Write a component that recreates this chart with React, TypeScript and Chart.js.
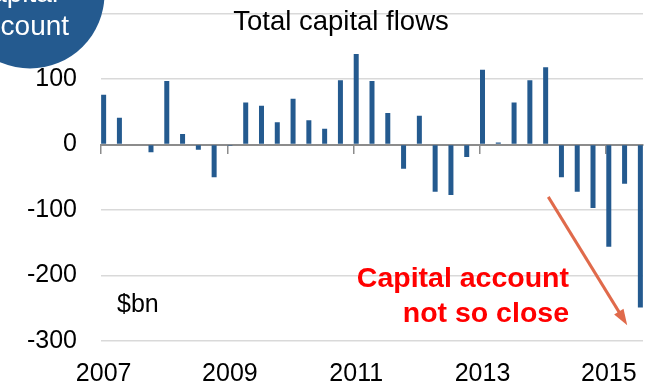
import React, { useEffect, useRef } from 'react';
import { Chart, registerables } from 'chart.js';

Chart.register(...registerables);

// ---- data ----
const quarterLabels = [
  '2007Q1', '2007Q2', '2007Q3', '2007Q4',
  '2008Q1', '2008Q2', '2008Q3', '2008Q4',
  '2009Q1', '2009Q2', '2009Q3', '2009Q4',
  '2010Q1', '2010Q2', '2010Q3', '2010Q4',
  '2011Q1', '2011Q2', '2011Q3', '2011Q4',
  '2012Q1', '2012Q2', '2012Q3', '2012Q4',
  '2013Q1', '2013Q2', '2013Q3', '2013Q4',
  '2014Q1', '2014Q2', '2014Q3', '2014Q4',
  '2015Q1', '2015Q2', '2015Q3',
];
const capitalFlows = [
  76, 41, 0, -12,
  97, 16, -8, -50,
  -2, 64, 59, 34,
  70, 37, 24, 98,
  138, 97, 48, -37,
  44, -72, -77, -19,
  114, 3, 64, 98,
  118, -50, -72, -97,
  -156, -60, -249,
];
const yearTickLabels = ['2007', '2009', '2011', '2013', '2015'];
const yTickValues = [-300, -200, -100, 0, 100, 200];
const titleText = 'Total capital flows';
const unitText = '$bn';
const calloutLines = ['Capital account', 'not so close'];
const badgeLines = ['Capital', 'account'];

// monthly date axis (Jan 2007 .. Jul 2015), each quarter's bar sits in its first month
const monthLabels: string[] = [];
const monthlyFlows: (number | null)[] = [];
quarterLabels.forEach((q, i) => {
  const year = q.slice(0, 4);
  const qn = Number(q.slice(5));
  for (let m = 0; m < 3; m++) {
    const month = (qn - 1) * 3 + m + 1;
    if (i === quarterLabels.length - 1 && m > 0) break;
    monthLabels.push(`${year}-${String(month).padStart(2, '0')}`);
    monthlyFlows.push(m === 0 ? capitalFlows[i] : null);
  }
});

const isYearTick = (lbl?: string) =>
  !!lbl && lbl.endsWith('-01') && yearTickLabels.includes(lbl.slice(0, 4));

const FONT = '"Liberation Sans", Arial, Helvetica, sans-serif';
const BAR_COLOR = '#245A8F';

const annotationPlugin = {
  id: 'annotations',
  afterDraw(chart: any) {
    const { ctx, chartArea, scales } = chart;
    const x = scales.x;
    const y = scales.y;
    ctx.save();
    // title
    ctx.fillStyle = '#000';
    ctx.font = `27.5px ${FONT}`;
    ctx.textAlign = 'center';
    ctx.textBaseline = 'alphabetic';
    ctx.fillText(titleText, 341, 29.5);
    // unit
    ctx.font = `25px ${FONT}`;
    ctx.textAlign = 'left';
    ctx.fillText(unitText, chartArea.left + 16, 312);
    // callout
    ctx.fillStyle = '#FF0000';
    ctx.font = `bold 28.5px ${FONT}`;
    ctx.textAlign = 'right';
    ctx.fillText(calloutLines[0], 569, 287);
    ctx.fillText(calloutLines[1], 569, 322);
    // arrow
    const x1 = x.getPixelForValue(84.5);
    const y1 = y.getPixelForValue(-80);
    const x2 = x.getPixelForValue(99.5);
    const y2 = y.getPixelForValue(-276);
    const ang = Math.atan2(y2 - y1, x2 - x1);
    const headLen = 16;
    const headW = 5.5;
    ctx.strokeStyle = '#E06A4B';
    ctx.fillStyle = '#E06A4B';
    ctx.lineWidth = 3;
    ctx.beginPath();
    ctx.moveTo(x1, y1);
    ctx.lineTo(x2 - Math.cos(ang) * headLen * 0.8, y2 - Math.sin(ang) * headLen * 0.8);
    ctx.stroke();
    ctx.beginPath();
    ctx.moveTo(x2, y2);
    ctx.lineTo(
      x2 - Math.cos(ang) * headLen + Math.sin(ang) * headW,
      y2 - Math.sin(ang) * headLen - Math.cos(ang) * headW
    );
    ctx.lineTo(
      x2 - Math.cos(ang) * headLen - Math.sin(ang) * headW,
      y2 - Math.sin(ang) * headLen + Math.cos(ang) * headW
    );
    ctx.closePath();
    ctx.fill();
    // badge circle
    ctx.fillStyle = BAR_COLOR;
    ctx.beginPath();
    ctx.arc(30, -6, 74.5, 0, Math.PI * 2);
    ctx.fill();
    ctx.fillStyle = '#FFFFFF';
    ctx.font = `28px ${FONT}`;
    ctx.textAlign = 'left';
    ctx.fillText(badgeLines[0], -29, 2);
    ctx.fillText(badgeLines[1], -29, 35);
    ctx.restore();
  },
};

export default function App() {
  const canvasRef = useRef<HTMLCanvasElement | null>(null);

  useEffect(() => {
    if (!canvasRef.current) return;
    const chart = new Chart(canvasRef.current, {
      type: 'bar',
      data: {
        labels: monthLabels,
        datasets: [
          {
            data: monthlyFlows,
            backgroundColor: BAR_COLOR,
            borderWidth: 0,
            barPercentage: 0.95,
            categoryPercentage: 1,
            xAxisID: 'x',
            yAxisID: 'y',
          },
        ],
      },
      options: {
        responsive: false,
        animation: false,
        devicePixelRatio: 1,
        layout: { padding: { top: 13.5, right: 13, left: 0, bottom: 0 } },
        plugins: {
          legend: { display: false },
          tooltip: { enabled: false },
          title: { display: false },
        },
        scales: {
          x: {
            type: 'category',
            position: 'bottom',
            offset: true,
            grid: { display: false, offset: true },
            border: { display: false },
            ticks: {
              autoSkip: false,
              maxRotation: 0,
              minRotation: 0,
              padding: 10,
              color: '#000',
              font: { family: FONT, size: 25 },
              callback: (_v: any, index: number) => {
                const lbl = monthLabels[index];
                return isYearTick(lbl) ? lbl.slice(0, 4) : '';
              },
            },
            afterFit: (scale: any) => {
              scale.height = 45;
            },
          },
          xz: {
            type: 'category',
            axis: 'x',
            position: { y: 0 },
            offset: true,
            grid: {
              display: true,
              offset: true,
              drawOnChartArea: false,
              drawTicks: true,
              tickLength: 8,
              lineWidth: 1.5,
              color: (c: any) => (isYearTick(monthLabels[c.index]) ? '#8C8C8C' : 'rgba(0,0,0,0)'),
            },
            border: { display: true, color: '#8C8C8C', width: 2 },
            ticks: { display: false },
          },
          y: {
            type: 'linear',
            position: 'left',
            min: -300,
            max: 200,
            afterBuildTicks: (scale: any) => {
              scale.ticks = yTickValues.map((v) => ({ value: v }));
            },
            grid: {
              color: '#D9D9D9',
              lineWidth: 1.5,
              drawTicks: true,
              tickLength: 24,
              tickColor: 'rgba(0,0,0,0)',
            },
            border: { display: false },
            ticks: {
              padding: 0,
              color: '#000',
              font: { family: FONT, size: 25, lineHeight: 1 },
            },
            afterFit: (scale: any) => {
              scale.width = 101;
            },
          },
        },
      } as any,
      plugins: [annotationPlugin],
    });
    return () => chart.destroy();
  }, []);

  return (
    <div style={{ position: 'fixed', left: 0, top: 0, width: 656, height: 386, background: '#fff' }}>
      <canvas ref={canvasRef} width={656} height={386} style={{ display: 'block' }} />
    </div>
  );
}
